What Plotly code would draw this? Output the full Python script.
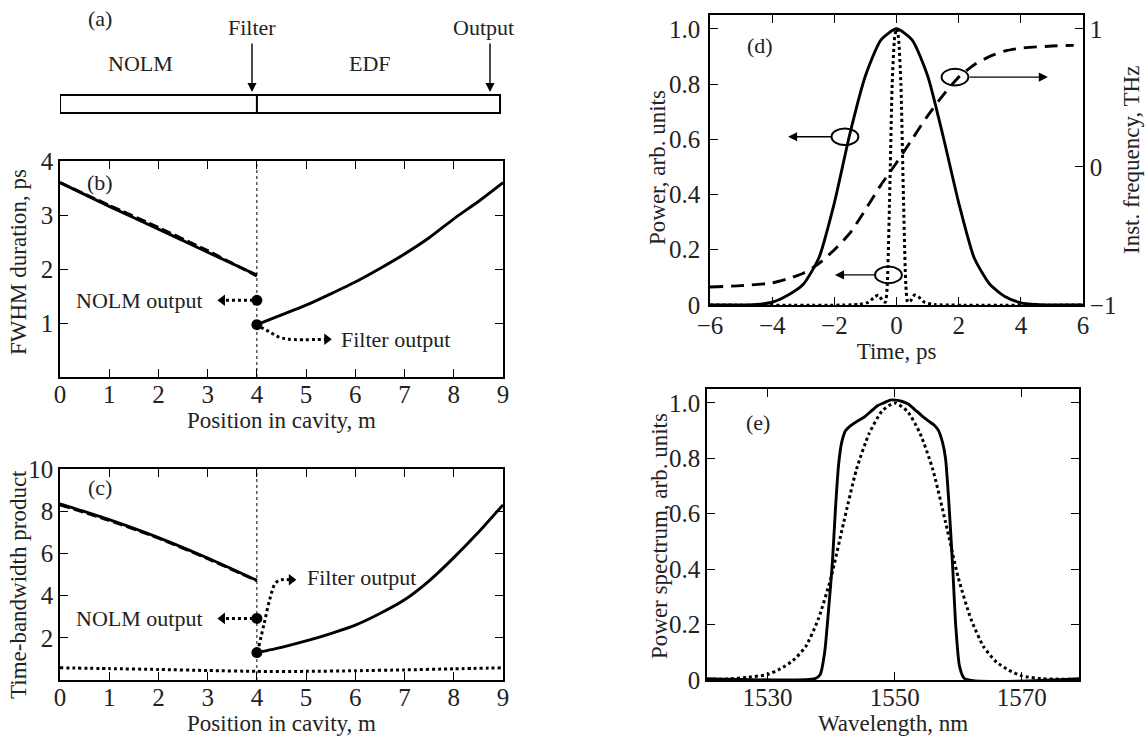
import plotly.graph_objects as go

W, H = 1145, 741
FONT = "Liberation Serif"
TICK = 25
TXT = 22
TTL = 23

# ---------------- data ----------------
# (b) FWHM duration vs position
pos_nolm = [0, 1, 2, 3, 4]
fwhm_nolm_solid = [3.6, 3.16, 2.74, 2.31, 1.89]
fwhm_nolm_dash = [3.6, 3.18, 2.77, 2.34, 1.87]
pos_edf = [4, 4.5, 5, 5.5, 6, 6.5, 7, 7.5, 8, 8.5, 9]
fwhm_edf = [0.97, 1.15, 1.33, 1.54, 1.76, 2.01, 2.28, 2.58, 2.93, 3.25, 3.6]
fwhm_markers = [1.42, 0.97]          # NOLM output, filter output

# (c) time-bandwidth product vs position
tbp_nolm_solid = [8.35, 7.6, 6.75, 5.78, 4.72]
tbp_nolm_dash = [8.3, 7.56, 6.72, 5.75, 4.70]
tbp_edf = [1.3, 1.55, 1.85, 2.2, 2.6, 3.15, 3.8, 4.7, 5.8, 7.0, 8.3]
pos_all = [0, 1, 2, 3, 4, 5, 6, 7, 8, 9]
tbp_limit = [0.58, 0.54, 0.5, 0.45, 0.41, 0.41, 0.44, 0.48, 0.53, 0.58]
tbp_markers = [2.92, 1.3]

# (d) temporal profiles
t_pow = [-6, -5, -4.5, -4, -3.5, -3, -2.5, -2, -1.5, -1, -0.5, 0,
         0.5, 1, 1.5, 2, 2.5, 3, 3.5, 4, 4.5, 5, 6]
p_chirped = [0, 0, 0.002, 0.01, 0.035, 0.075, 0.17, 0.37, 0.62, 0.83, 0.96, 1.0,
             0.96, 0.83, 0.61, 0.37, 0.17, 0.075, 0.03, 0.008, 0.002, 0, 0]
t_comp = [-6, -1.2, -0.9, -0.7, -0.58, -0.45, -0.36, -0.3, -0.22, -0.14, -0.06, 0,
          0.06, 0.14, 0.22, 0.3, 0.36, 0.45, 0.58, 0.7, 0.9, 1.2, 6]
p_comp = [0, 0.002, 0.01, 0.03, 0.036, 0.015, 0.01, 0.07, 0.4, 0.8, 0.97, 1.0,
          0.97, 0.8, 0.4, 0.07, 0.01, 0.015, 0.036, 0.03, 0.01, 0.002, 0]
t_freq = [-6, -5, -4, -3.5, -3, -2.5, -2, -1.5, -1, -0.5, 0, 0.5, 1,
          1.5, 2, 2.5, 3, 3.5, 4, 5, 5.7]
inst_freq = [-0.87, -0.86, -0.84, -0.81, -0.77, -0.7, -0.6, -0.48, -0.31, -0.13, 0.03,
             0.2, 0.37, 0.52, 0.65, 0.74, 0.8, 0.84, 0.86, 0.875, 0.88]

# (e) spectra
lam_out = [1520.5, 1537.5, 1538.3, 1539.0, 1539.6, 1540.2, 1540.7, 1541.2, 1541.7,
           1542.3, 1543.2, 1544.2, 1545.3, 1546.3, 1547.3, 1548.3, 1549.3, 1550.2,
           1551.2, 1552.2, 1553.2, 1554.2, 1555.3, 1556.2, 1556.9, 1557.5, 1558.0,
           1558.5, 1559.1, 1559.6, 1560.2, 1561.0, 1579]
spec_out = [0.005, 0.005, 0.02, 0.1, 0.25, 0.42, 0.62, 0.78, 0.86, 0.9, 0.92, 0.935,
            0.95, 0.97, 0.99, 1.0, 1.01, 1.01, 1.005, 0.995, 0.975, 0.955, 0.935,
            0.92, 0.9, 0.86, 0.8, 0.65, 0.42, 0.2, 0.05, 0.005, 0.005]
lam_filt = [1520.5, 1524, 1527, 1530, 1532, 1534, 1536, 1538, 1540, 1542, 1544, 1546,
            1548, 1550, 1552, 1554, 1556, 1558, 1560, 1562, 1564, 1566, 1568, 1570,
            1573, 1576, 1579]
spec_filt = [0.002, 0.004, 0.01, 0.02, 0.04, 0.07, 0.12, 0.22, 0.37, 0.57, 0.76, 0.89,
             0.97, 1.0, 0.97, 0.89, 0.76, 0.57, 0.37, 0.22, 0.12, 0.065, 0.035, 0.015,
             0.005, 0.003, 0.002]

# ---------------- figure ----------------
fig = go.Figure()
BLK = "black"


def line(x, y, xa, ya, dash="solid", width=2.9, shape="spline"):
    fig.add_trace(go.Scatter(x=x, y=y, xaxis=xa, yaxis=ya, mode="lines",
                             line=dict(color=BLK, width=width, dash=dash, shape=shape,
                                       smoothing=0.6),
                             showlegend=False, hoverinfo="skip"))


# (b)
line(pos_nolm, fwhm_nolm_dash, "x", "y", dash="10px,4px")
line(pos_nolm, fwhm_nolm_solid, "x", "y")
line(pos_edf, fwhm_edf, "x", "y")
# (c)
line(pos_nolm, tbp_nolm_dash, "x2", "y2", dash="10px,4px")
line(pos_nolm, tbp_nolm_solid, "x2", "y2")
line(pos_edf, tbp_edf, "x2", "y2")
line(pos_all, tbp_limit, "x2", "y2", dash="dot", width=3)
# (d)
line(t_pow, p_chirped, "x3", "y3")
line(t_comp, p_comp, "x3", "y3", dash="dot", width=3)
line(t_freq, inst_freq, "x3", "y4", dash="13px,8px")
# (e)
line(lam_filt, spec_filt, "x5", "y5", dash="dot", width=3)
line(lam_out, spec_out, "x5", "y5")

# markers at the filter position
for ya, vals in (("y", fwhm_markers), ("y2", tbp_markers)):
    fig.add_trace(go.Scatter(x=[4, 4], y=vals, xaxis="x" if ya == "y" else "x2", yaxis=ya,
                             mode="markers", marker=dict(color=BLK, size=11),
                             showlegend=False, hoverinfo="skip"))


# dotted callout arrows
def dotted_arrow(xs, ys, xa, ya, sym):
    fig.add_trace(go.Scatter(x=xs, y=ys, xaxis=xa, yaxis=ya, mode="lines",
                             line=dict(color=BLK, width=3, dash="dot", shape="spline"),
                             showlegend=False, hoverinfo="skip"))
    fig.add_trace(go.Scatter(x=[xs[-1]], y=[ys[-1]], xaxis=xa, yaxis=ya, mode="markers",
                             marker=dict(color=BLK, size=10, symbol=sym),
                             showlegend=False, hoverinfo="skip"))


dotted_arrow([3.92, 3.3], [1.42, 1.42], "x", "y", "triangle-left")
dotted_arrow([4.08, 4.25, 4.45, 4.65, 5.42], [0.92, 0.84, 0.74, 0.70, 0.70], "x", "y",
             "triangle-right")
dotted_arrow([3.92, 3.3], [2.92, 2.92], "x2", "y2", "triangle-left")
dotted_arrow([4.04, 4.15, 4.27, 4.38, 4.5, 4.7], [1.6, 2.7, 3.9, 4.6, 4.75, 4.75],
             "x2", "y2", "triangle-right")

# ---------------- axes ----------------
common = dict(showline=True, linecolor=BLK, linewidth=1.5, ticks="inside", ticklen=8,
              tickwidth=1.3, tickcolor=BLK, showgrid=False, zeroline=False,
              automargin=False,
              tickfont=dict(family=FONT, size=TICK, color="#222"))
xcommon = dict(common, ticklabelstandoff=-6)
xb = [0.0524, 0.4393]
ttl = dict(font=dict(family=FONT, size=TTL, color="#222"), standoff=4)

fig.update_layout(
    width=W, height=H, margin=dict(l=0, r=0, t=0, b=0, pad=0, autoexpand=False),
    paper_bgcolor="white", plot_bgcolor="white", showlegend=False,
    font=dict(family=FONT, color="#222"),
    xaxis=dict(domain=xb, range=[0, 9], anchor="y", mirror="ticks",
               tickvals=list(range(10)), title=dict(text="Position in cavity, m", **ttl),
               **xcommon),
    yaxis=dict(domain=[0.4912, 0.7827], range=[0, 4], anchor="x", mirror="ticks",
               tickvals=[1, 2, 3, 4], **common),
    xaxis2=dict(domain=xb, range=[0, 9], anchor="y2", mirror="ticks",
                tickvals=list(range(10)), title=dict(text="Position in cavity, m", **ttl),
                **xcommon),
    yaxis2=dict(domain=[0.0823, 0.3671], range=[0, 10], anchor="x2", mirror="ticks",
                tickvals=[2, 4, 6, 8, 10], **common),
    xaxis3=dict(domain=[0.6201, 0.9459], range=[-6, 6], anchor="y3", mirror="ticks",
                tickvals=[-6, -4, -2, 0, 2, 4, 6],
                ticktext=["\u22126", "\u22124", "\u22122", "0", "2", "4", "6"],
                title=dict(text="Time, ps", **ttl), **dict(xcommon, ticklabelstandoff=-3)),
    yaxis3=dict(domain=[0.5884, 0.9798], range=[0, 1.05], anchor="x3", mirror=True,
                tickvals=[0, 0.2, 0.4, 0.6, 0.8, 1.0],
                ticktext=["0", "0.2", "0.4", "0.6", "0.8", "1.0"],
                **dict(common, ticklabelstandoff=3)),
    yaxis4=dict(overlaying="y3", side="right", range=[-1, 1.1], anchor="x3",
                tickvals=[-1, 0, 1], ticktext=["\u22121", "0", "1"], **common),
    xaxis5=dict(domain=[0.6175, 0.9424], range=[1520.5, 1579], anchor="y5", mirror="ticks",
                tickvals=[1530, 1550, 1570], title=dict(text="Wavelength, nm", **ttl),
                **xcommon),
    yaxis5=dict(domain=[0.0823, 0.4750], range=[0, 1.05], anchor="x5", mirror="ticks",
                tickvals=[0, 0.2, 0.4, 0.6, 0.8, 1.0],
                ticktext=["0", "0.2", "0.4", "0.6", "0.8", "1.0"], **common),
)

# ---------------- shapes ----------------
shapes = []
# (a) cavity schematic
shapes.append(dict(type="rect", xref="x", yref="paper", x0=0, x1=8.94,
                   y0=1 - 113 / H, y1=1 - 95 / H, line=dict(color=BLK, width=2)))
shapes.append(dict(type="line", xref="x", yref="paper", x0=4, x1=4,
                   y0=1 - 113 / H, y1=1 - 95 / H, line=dict(color=BLK, width=2)))
# filter position line in (b) and (c)
for xr, yr in (("x", "y domain"), ("x2", "y2 domain")):
    shapes.append(dict(type="line", xref=xr, yref=yr, x0=4, x1=4, y0=0, y1=1,
                       line=dict(color=BLK, width=1, dash="dot")))
# loops in (d)
for cx, cy in ((-1.66, 0.609), (-0.26, 0.109), (1.88, 0.825)):
    shapes.append(dict(type="circle", xref="x3", yref="y3", x0=cx - 0.43, x1=cx + 0.43,
                       y0=cy - 0.03, y1=cy + 0.03, line=dict(color=BLK, width=2)))
fig.update_layout(shapes=shapes)

# ---------------- annotations ----------------
ann = []


def txt(x, y, s, xref="paper", yref="paper", xanchor="center", size=TXT, angle=0):
    ann.append(dict(x=x, y=y, xref=xref, yref=yref, text=s, showarrow=False,
                    xanchor=xanchor, yanchor="middle", textangle=angle,
                    font=dict(family=FONT, size=size, color="#222")))


def arrow(x, y, ax, ay, xref, yref, axref="pixel", ayref="pixel"):
    ann.append(dict(x=x, y=y, ax=ax, ay=ay, xref=xref, yref=yref, axref=axref, ayref=ayref,
                    text="", showarrow=True, arrowhead=2, arrowsize=1.3, arrowwidth=1.4,
                    arrowcolor=BLK))


# (a)
txt(100 / W, 1 - 18 / H, "(a)")
txt(252 / W, 1 - 27 / H, "Filter")
txt(483 / W, 1 - 27 / H, "Output")
txt(140 / W, 1 - 63 / H, "NOLM")
txt(370 / W, 1 - 63 / H, "EDF")
arrow(252 / W, 1 - 92 / H, 0, -50, "paper", "paper")
arrow(490 / W, 1 - 92 / H, 0, -50, "paper", "paper")

# (b)
txt(0.81, 3.6, "(b)", "x", "y")
txt(2.95, 1.42, "NOLM output", "x", "y", xanchor="right")
txt(5.66, 0.70, "Filter output", "x", "y", xanchor="left")
# (c)
txt(0.81, 9.1, "(c)", "x2", "y2")
txt(2.95, 2.92, "NOLM output", "x2", "y2", xanchor="right")
txt(4.98, 4.85, "Filter output", "x2", "y2", xanchor="left")
# (d)
txt(-4.4, 0.94, "(d)", "x3", "y3")
arrow(-3.49, 0.609, -2.05, 0.609, "x3", "y3", "x3", "y3")
arrow(-1.98, 0.109, -0.65, 0.109, "x3", "y3", "x3", "y3")
arrow(4.87, 0.825, 2.3, 0.825, "x3", "y3", "x3", "y3")
# (e)
txt(1528.5, 0.93, "(e)", "x5", "y5")

# y-axis titles
txt(18 / W, 1 - 262 / H, "FWHM duration, ps", angle=-90, size=TTL)
txt(18 / W, 1 - 585 / H, "Time-bandwidth product", angle=-90, size=TTL)
txt(657 / W, 1 - 168 / H, "Power, arb. units", angle=-90, size=TTL)
txt(1131 / W, 1 - 160 / H, "Inst. frequency, THz", angle=-90, size=TTL)
txt(659 / W, 1 - 536 / H, "Power spectrum, arb. units", angle=-90, size=TTL)

fig.update_layout(annotations=ann)
fig.write_html("out.html", config={"displayModeBar": False},
               post_script="document.body.style.margin='0';")
